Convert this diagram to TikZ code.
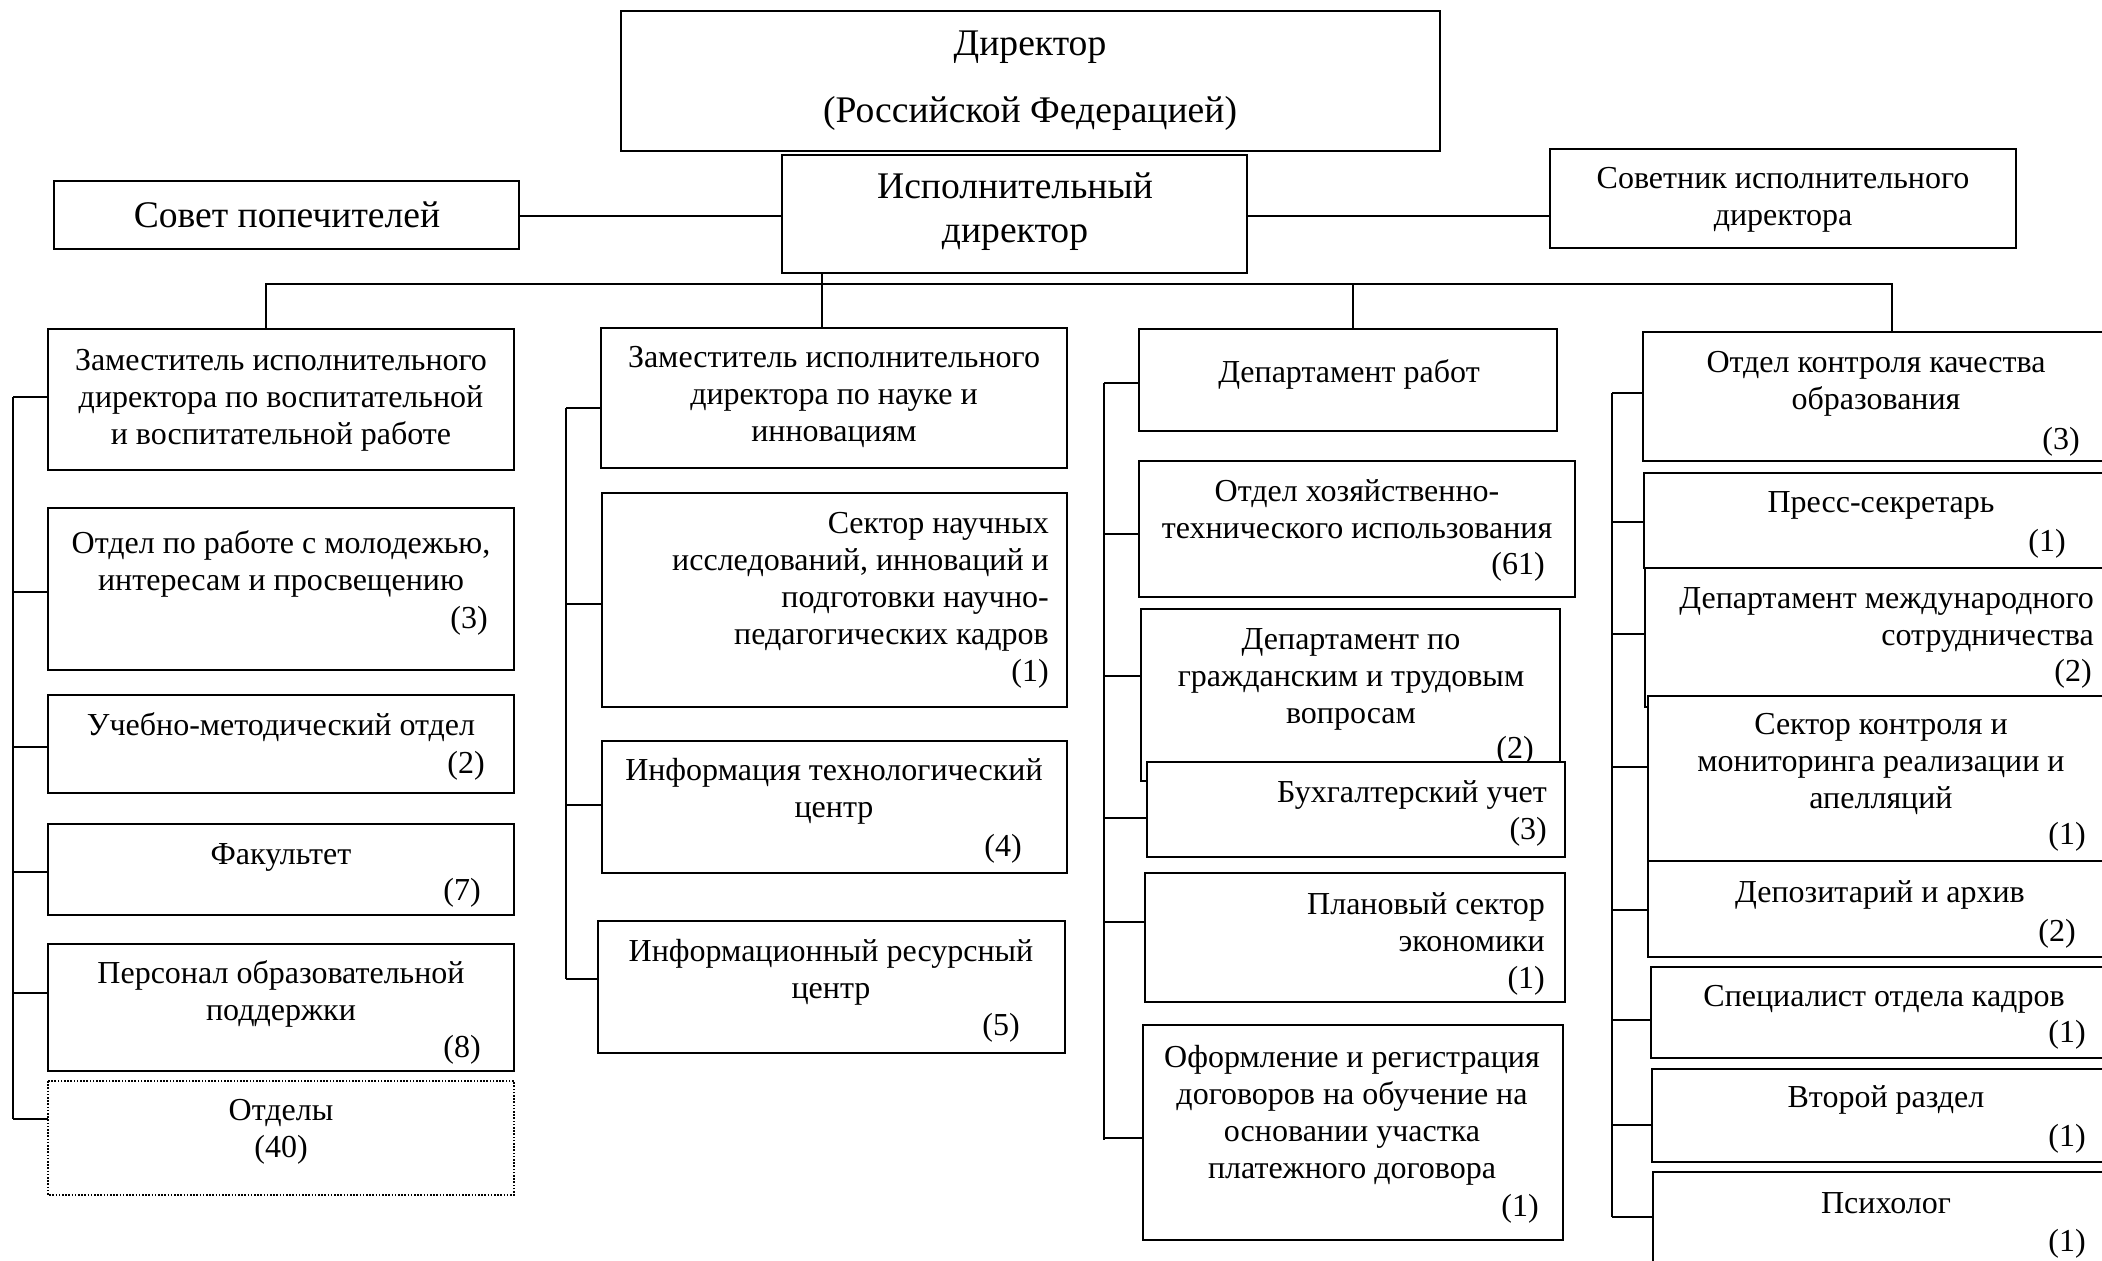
\documentclass[tikz,border=0pt]{standalone}
\usepackage{fontspec}
\setmainfont{Liberation Serif}
\newcommand\fsm{\fontsize{32}{37}\selectfont}
\newcommand\fbg{\fontsize{37.6}{44}\selectfont}
\tikzset{
 box/.style={draw, line width=1.3pt, fill=white, inner sep=0pt, outer sep=0pt, anchor=north west},
 txt/.style={font=\fsm, align=center, inner sep=0pt, yshift=-2pt},
 rtxt/.style={font=\fsm, align=right, inner sep=0pt, anchor=east, yshift=-2pt},
 big/.style={font=\fbg, align=center, inner sep=0pt, yshift=-1pt},
 num/.style={font=\fsm, inner sep=0pt, yshift=-2pt},
 ln/.style={line width=1.3pt},
 dotbox/.style={dash pattern=on 1.6pt off 1.6pt, line width=1.1pt}
}
\newcommand\mybox[6][]{\node[box,#1,minimum width={(#5)-(#3)},minimum height={(#6)-(#4)}] (#2) at (#3,#4) {};}
\begin{document}
\begin{tikzpicture}[x=1pt,y=-1pt]
\useasboundingbox (0,0) rectangle (2102,1261);
\clip (0,0) rectangle (2102,1261);
\fill[white] (0,0) rectangle (2102,1261);
% top level
\mybox{dir}{621}{11}{1440}{151}
\node[big] (dirA) at (1030,46) {Директор};
\node[big] (dirB) at (1030,112) {(Российской Федерацией)};
\mybox{exec}{782}{155}{1247}{273}
\node[big] (execT) at (1015,211) {Исполнительный\\директор};
\mybox{sovet}{54}{181}{519}{249}
\node[big] (sovetT) at (287,214) {Совет попечителей};
\mybox{adv}{1550}{149}{2016}{248}
\node[txt] (advT) at (1783,198) {Советник исполнительного\\директора};
\draw[ln] (sovet.east |- 0,216) -- (exec.west |- 0,216);
\draw[ln] (exec.east |- 0,216) -- (adv.west |- 0,216);
% column 1
\mybox{zamA}{48}{329}{514}{470}
\node[txt] (zamAT) at (281,398) {Заместитель исполнительного\\директора по воспитательной\\и воспитательной работе};
\mybox{youth}{48}{508}{514}{670}
\node[txt] (youthT) at (281,562) {Отдел по работе с молодежью,\\интересам и просвещению};
\node[num] (youthN) at (469,619) {(3)};
\mybox{umo}{48}{695}{514}{793}
\node[txt] (umoT) at (281,725) {Учебно-методический отдел};
\node[num] (umoN) at (466,764) {(2)};
\mybox{fac}{48}{824}{514}{915}
\node[txt] (facT) at (281,855) {Факультет};
\node[num] (facN) at (462,891) {(7)};
\mybox{pers}{48}{944}{514}{1071}
\node[txt] (persT) at (281,992) {Персонал образовательной\\поддержки};
\node[num] (persN) at (462,1048) {(8)};
\mybox[draw=none]{otd}{48}{1081}{514}{1195}
\draw[dotbox] (otd.north west) rectangle (otd.south east);
\node[txt] (otdT) at (281,1130) {Отделы\\(40)};
% column 2
\mybox{sci}{601}{328}{1067}{468}
\node[txt] (sciT) at (834,395) {Заместитель исполнительного\\директора по науке и\\инновациям};
\mybox{sector}{602}{493}{1067}{707}
\node[rtxt] (sectorT) at (1049,598) {Сектор научных\\исследований, инноваций и\\подготовки научно-\\педагогических кадров\\(1)};
\mybox{itc}{602}{741}{1067}{873}
\node[txt] (itcT) at (834,789) {Информация технологический\\центр};
\node[num] (itcN) at (1003,847) {(4)};
\mybox{irc}{598}{921}{1065}{1053}
\node[txt] (ircT) at (831,970) {Информационный ресурсный\\центр};
\node[num] (ircN) at (1001,1026) {(5)};
% column 3
\mybox{works}{1139}{329}{1557}{431}
\node[txt] (worksT) at (1349,372) {Департамент работ};
\mybox{hoz}{1139}{461}{1575}{597}
\node[txt] (hozT) at (1357,507) {Отдел хозяйственно-\\технического использования};
\node[num] (hozN) at (1518,565) {(61)};
\mybox{civil}{1141}{609}{1560}{781}
\node[txt] (civilT) at (1351,677) {Департамент по\\гражданским и трудовым\\вопросам};
\node[num] (civilN) at (1515,749) {(2)};
\mybox{buh}{1147}{762}{1565}{857}
\node[rtxt] (buhT) at (1547,811) {Бухгалтерский учет\\(3)};
\mybox{plan}{1145}{873}{1565}{1002}
\node[rtxt] (planT) at (1545,942) {Плановый сектор\\экономики\\(1)};
\mybox{contr}{1143}{1025}{1563}{1240}
\node[txt] (contrT) at (1352,1113) {Оформление и регистрация\\договоров на обучение на\\основании участка\\платежного договора};
\node[num] (contrN) at (1520,1207) {(1)};
% column 4
\mybox{qual}{1643}{332}{2110}{461}
\node[txt] (qualT) at (1876,382) {Отдел контроля качества\\образования};
\node[num] (qualN) at (2061,440) {(3)};
\mybox{press}{1644}{473}{2110}{568}
\node[txt] (pressT) at (1881,503) {Пресс-секретарь};
\node[num] (pressN) at (2047,542) {(1)};
\mybox{intl}{1645}{568}{2110}{707}
\node[rtxt] (intlT) at (2094,618) {Департамент международного\\сотрудничества};
\node[num] (intlN) at (2073,672) {(2)};
\mybox{monit}{1648}{696}{2110}{861}
\node[txt] (monitT) at (1881,762) {Сектор контроля и\\мониторинга реализации и\\апелляций};
\node[num] (monitN) at (2067,835) {(1)};
\mybox{depo}{1648}{861}{2110}{957}
\node[txt] (depoT) at (1880,893) {Депозитарий и архив};
\node[num] (depoN) at (2057,932) {(2)};
\mybox{hr}{1651}{967}{2110}{1058}
\node[txt] (hrT) at (1884,997) {Специалист отдела кадров};
\node[num] (hrN) at (2067,1033) {(1)};
\mybox{second}{1652}{1069}{2110}{1162}
\node[txt] (secondT) at (1886,1098) {Второй раздел};
\node[num] (secondN) at (2067,1137) {(1)};
\mybox{psy}{1653}{1172}{2110}{1275}
\node[txt] (psyT) at (1886,1201) {Психолог};
\node[num] (psyN) at (2067,1242) {(1)};
% bus
\coordinate (busL) at (266,284);
\coordinate (busR) at (1892,284);
\draw[ln] (zamA.north -| busL) -- (busL) -- (busR) -- (qual.north -| busR);
\draw[ln] (exec.south -| 822,0) -- (sci.north -| 822,0);
\draw[ln] (works.north -| 1353,0) -- (1353,284);
% spines
\coordinate (s1a) at (13,397); \coordinate (s1b) at (13,1119);
\draw[ln] (s1a) -- (s1b);
\foreach \n/\y in {zamA/397,youth/592,umo/747,fac/872,pers/993,otd/1119}
  \draw[ln] (13,\y) -- (\n.west |- 0,\y);
\coordinate (s2a) at (566,408); \coordinate (s2b) at (566,979);
\draw[ln] (s2a) -- (s2b);
\foreach \n/\y in {sci/408,sector/604,itc/805,irc/979}
  \draw[ln] (566,\y) -- (\n.west |- 0,\y);
\coordinate (s3a) at (1104,383); \coordinate (s3b) at (1104,1140);
\draw[ln] (s3a) -- (s3b);
\foreach \n/\y in {works/383,hoz/534,civil/676,buh/818,plan/922,contr/1138}
  \draw[ln] (1104,\y) -- (\n.west |- 0,\y);
\coordinate (s4a) at (1612,393); \coordinate (s4b) at (1612,1217);
\draw[ln] (s4a) -- (s4b);
\foreach \n/\y in {qual/393,press/522,intl/634,monit/767,depo/910,hr/1020,second/1125,psy/1217}
  \draw[ln] (1612,\y) -- (\n.west |- 0,\y);
\end{tikzpicture}
\end{document}
